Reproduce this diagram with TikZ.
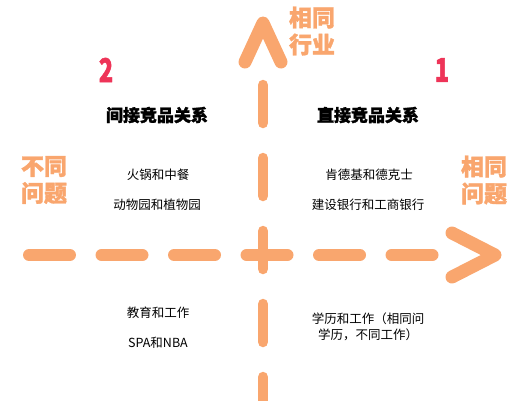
\documentclass[tikz,border=0pt]{standalone}
\usepackage{fontspec}
\setmainfont{Noto Sans CJK SC}
\newfontfamily\heavycjk{Noto Sans CJK SC}[BoldFeatures={FakeBold=1.5}]
\definecolor{axisorange}{HTML}{F9A66E}
\definecolor{numred}{HTML}{EE3458}
\begin{document}
\begin{tikzpicture}
[
    x=1pt, y=-1pt,
    axis/.style={draw=axisorange, line cap=round, line join=round},
    tag/.style={text=axisorange, font=\heavycjk\bfseries\fontsize{23}{27}\selectfont, align=center, inner sep=0pt},
    num/.style={text=numred, font=\heavycjk\bfseries\fontsize{33}{33}\selectfont, xscale=0.72, inner sep=0pt},
    title/.style={font=\heavycjk\bfseries\fontsize{17}{20}\selectfont, inner sep=0pt},
    item/.style={font=\fontsize{12.5}{16}\selectfont, align=center, inner sep=0pt}
]
    \useasboundingbox (0,0) rectangle (517,400);
    \clip (0,0) rectangle (517,400);

    % axes
    \coordinate (vtop) at (263,85);
    \coordinate (vbot) at (263,420);
    \coordinate (hleft) at (29,255);
    \coordinate (hright) at (440,255);
    \draw [axis, line width=10.5pt, dash pattern=on 38pt off 35pt] (vtop) -- (vbot);
    \draw [axis, line width=12pt, dash pattern=on 41pt off 31.5pt] (hleft) -- (hright);

    \coordinate (vtip) at (263,23);
    \coordinate (vtipl) at (245,62);
    \coordinate (vtipr) at (281,62);
    \draw [axis, line width=13pt] (vtipl) -- (vtip) -- (vtipr);
    \coordinate (htip) at (495,255);
    \coordinate (htipt) at (452,233);
    \coordinate (htipb) at (452,277);
    \draw [axis, line width=13pt] (htipt) -- (htip) -- (htipb);

    % axis labels
    \node [tag] (sameind) at (312,31) {相同\\行业};
    \node [tag] (diffprob) at (44,180) {不同\\问题};
    \node [tag] (sameprob) at (484,180) {相同\\问题};

    % quadrants
    \node [num] (num2) at (106,70) {2};
    \node [num] (num1) at (442,70) {1};
    \node [title] (indirect) at (157,115) {间接竞品关系};
    \node [title] (direct) at (368,115) {直接竞品关系};

    \node [item] (hotpot) at (158,175) {火锅和中餐};
    \node [item] (zoo) at (157,205) {动物园和植物园};
    \node [item] (kfc) at (369,175) {肯德基和德克士};
    \node [item] (bank) at (368,205) {建设银行和工商银行};
    \node [item] (edu) at (158,313) {教育和工作};
    \node [item] (spa) at (158,343) {SPA和NBA};
    \node [item] (degree) at (368,327) {学历和工作（相同问\\学历，不同工作）};
\end{tikzpicture}
\end{document}
